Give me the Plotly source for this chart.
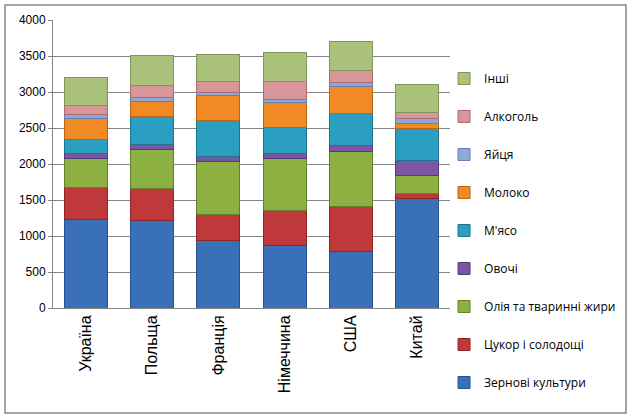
import plotly.graph_objects as go

countries = ["Україна", "Польща", "Франція", "Німеччина", "США", "Китай"]
series_names = ["Зернові культури", "Цукор і солодощі", "Олія та тваринні жири", "Овочі",
                "М'ясо", "Молоко", "Яйця", "Алкоголь", "Інші"]

zernovi = [1225, 1213, 935, 875, 782, 1518]
tsukor = [450, 444, 361, 477, 625, 70]
oliya = [400, 547, 732, 727, 764, 250]
ovochi = [75, 69, 83, 60, 84, 208]
myaso = [195, 389, 491, 366, 444, 449]
moloko = [290, 213, 347, 347, 375, 61]
yaytsya = [50, 46, 42, 37, 56, 78]
alkohol = [125, 167, 148, 255, 166, 79]
inshi = [395, 416, 384, 407, 408, 394]

values = [zernovi, tsukor, oliya, ovochi, myaso, moloko, yaytsya, alkohol, inshi]
colors = ["#3A70B8", "#C0393A", "#8CB041", "#7A57A0", "#2A9FBF", "#F28A24",
          "#8FA8D8", "#D9969A", "#AAC27C"]
edges = ["#27548F", "#8E2628", "#637F2A", "#553A78", "#1C7490", "#B8651A",
         "#6480B0", "#A86C70", "#7F9658"]

fig = go.Figure()
n = len(series_names)
for i, (name, vals, c, e) in enumerate(zip(series_names, values, colors, edges)):
    fig.add_trace(go.Bar(
        x=countries, y=vals, name=name, legendgroup=name, legendrank=n - i,
        marker=dict(color=c, line=dict(color=e, width=1)),
    ))

fig.update_layout(
    barmode="stack",
    bargap=0.35,
    width=636, height=420,
    paper_bgcolor="white", plot_bgcolor="white",
    margin=dict(l=53, r=186, t=20, b=112),
    font=dict(family="Open Sans, DejaVu Sans, sans-serif", color="black"),
    showlegend=True,
    legend=dict(
        traceorder="grouped", x=0.985, xanchor="left", y=(308 - 64) / 288, yanchor="top",
        font=dict(size=12, family="Open Sans, sans-serif"),
        tracegroupgap=19, itemwidth=30, maxheight=410,
        bgcolor="rgba(0,0,0,0)",
    ),
    xaxis=dict(
        tickangle=-90, tickfont=dict(size=16, family="Liberation Sans, Arial, sans-serif"),
        showline=True, linecolor="#868686", linewidth=1, ticks="",
    ),
    yaxis=dict(
        range=[0, 4000], dtick=500, tickfont=dict(size=12, family="Liberation Sans, Arial, sans-serif"),
        showgrid=True, gridcolor="#868686", gridwidth=1,
        showline=True, linecolor="#868686", linewidth=1,
        ticks="outside", ticklen=4, tickcolor="#868686", zeroline=False,
    ),
    shapes=[dict(type="rect", xref="paper", yref="paper",
                 x0=(5 - 53) / 397, x1=(626 - 53) / 397,
                 y0=(308 - 413) / 288, y1=(308 - 5) / 288,
                 line=dict(color="#868686", width=1.5), fillcolor="rgba(0,0,0,0)", layer="below")],
)

fig.write_html("out.html")
